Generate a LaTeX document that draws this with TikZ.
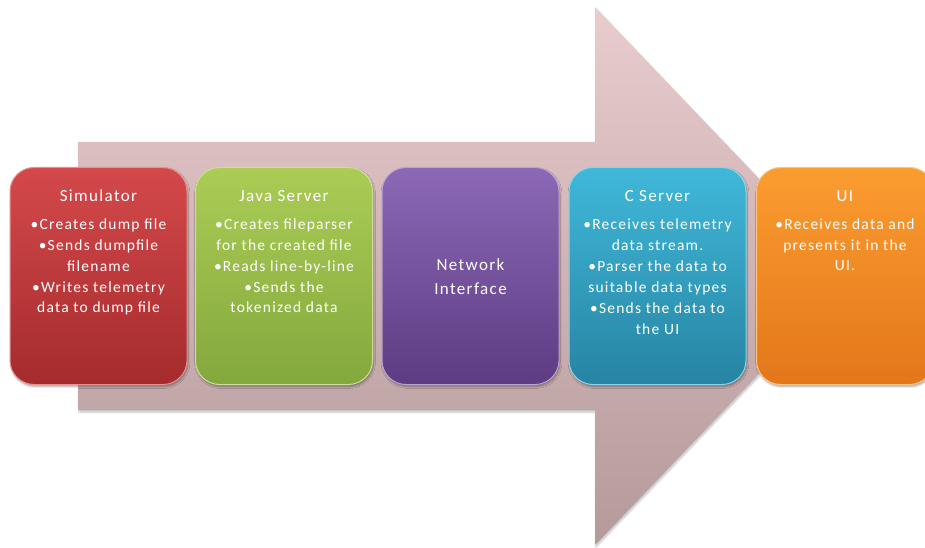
\documentclass[tikz,border=0pt]{standalone}
\usepackage{fontspec}
\setmainfont{Carlito}
\newfontfamily\widefont[LetterSpace=8]{Carlito}
\usetikzlibrary{shadows.blur}
\definecolor{arrtop}{HTML}{E9CCCD}
\definecolor{arrbot}{HTML}{B49A9B}
\definecolor{redtop}{HTML}{D4494B}
\definecolor{redbot}{HTML}{A52B2D}
\definecolor{grntop}{HTML}{ABCC56}
\definecolor{grnbot}{HTML}{83A83C}
\definecolor{purtop}{HTML}{8C68B6}
\definecolor{purbot}{HTML}{5D3C83}
\definecolor{teatop}{HTML}{40B8DA}
\definecolor{teabot}{HTML}{2784A2}
\definecolor{orntop}{HTML}{FB9C30}
\definecolor{ornbot}{HTML}{E3771A}
\tikzset{
  stagebox/.style n args={2}{rounded corners=24pt, minimum width=177pt, minimum height=217pt,
    top color=#1, bottom color=#2, draw=#1!60!white, line width=1pt,
    blur shadow={shadow blur steps=6, shadow xshift=1pt, shadow yshift=-2pt, shadow opacity=35}},
  titletext/.style={text=white, font=\widefont\fontsize{17}{20}\selectfont, inner sep=0pt},
  bullettext/.style={text=white, font=\widefont\fontsize{15.5}{20.5}\selectfont, align=center, inner sep=0pt, anchor=north},
}
\begin{document}
\begin{tikzpicture}[x=1pt,y=-1pt]
\useasboundingbox (0,0) rectangle (925,548);
% big arrow
\path[top color=arrtop, bottom color=arrbot,
      blur shadow={shadow blur steps=6, shadow xshift=1pt, shadow yshift=-2pt, shadow opacity=25}]
  (78,142) -- (595,142) -- (595,7) -- (852,276) -- (595,545) -- (595,410) -- (78,410) -- cycle;
% stage boxes
\node[stagebox={redtop}{redbot}] (sim) at (98.5,276) {};
\node[stagebox={grntop}{grnbot}] (java) at (284,276) {};
\node[stagebox={purtop}{purbot}] (net) at (470.5,276) {};
\node[stagebox={teatop}{teabot}] (cserv) at (657.5,276) {};
\node[stagebox={orntop}{ornbot}] (ui) at (845,276) {};
% titles
\node[titletext] (simt) at (98.5,196) {Simulator};
\node[titletext] (javat) at (284,196) {Java Server};
\node[titletext] (cservt) at (657.5,196) {C Server};
\node[titletext] (uit) at (845,196) {UI};
\node[titletext, align=center, font=\widefont\fontsize{17}{24}\selectfont] (nett) at (470.5,277) {Network\\Interface};
% bullets
\node[bullettext] (simb) at (98.5,219) {•Creates dump file\\[0.5pt]•Sends dumpfile\\filename\\[0.5pt]•Writes telemetry\\data to dump file};
\node[bullettext] (javab) at (284,219) {•Creates fileparser\\for the created file\\[0.5pt]•Reads line-by-line\\[0.5pt]•Sends the\\tokenized data};
\node[bullettext] (cservb) at (657.5,219) {•Receives telemetry\\data stream.\\[1pt]•Parser the data to\\suitable data types\\[1pt]•Sends the data to\\the UI};
\node[bullettext] (uib) at (845,219) {•Receives data and\\presents it in the\\UI.};
\end{tikzpicture}
\end{document}
